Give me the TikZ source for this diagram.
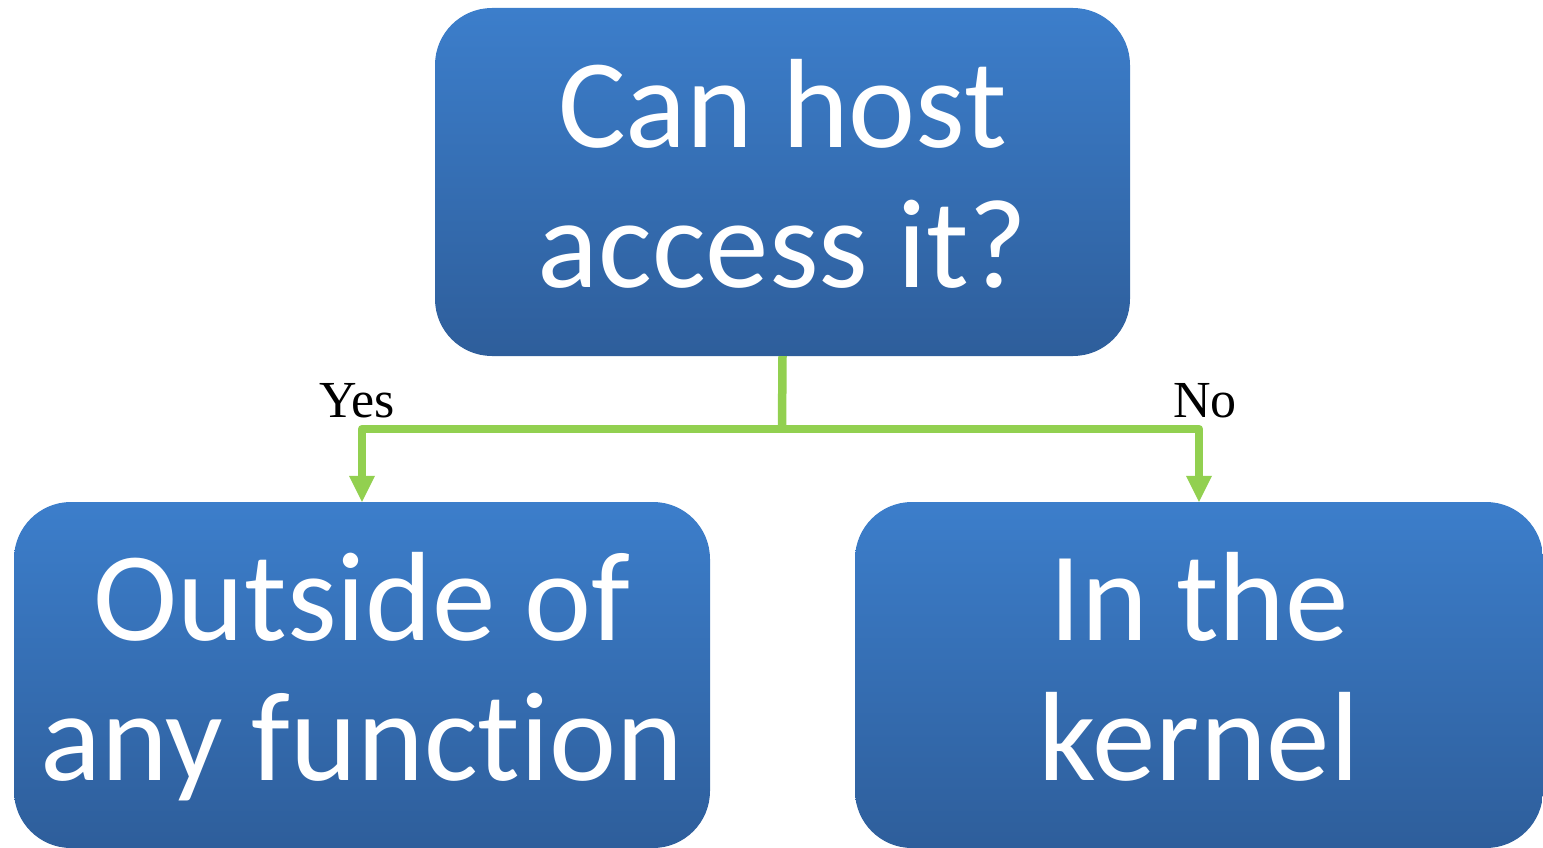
\documentclass[tikz,border=0pt]{standalone}
\usepackage{fontspec}
\newfontfamily\boxfont[Ligatures=NoCommon]{Carlito}
\newfontfamily\lblfont{Liberation Serif}
\usetikzlibrary{arrows.meta}
\definecolor{boxtop}{RGB}{60,126,203}
\definecolor{boxbot}{RGB}{46,94,155}
\definecolor{flowgreen}{RGB}{146,208,80}

\begin{document}
\begin{tikzpicture}[x=1pt,y=-1pt,
  box/.style={draw=none,rounded corners=57pt,top color=boxtop,bottom color=boxbot,
    inner sep=0pt,align=center,text=white,minimum height=346pt,
    text height=211pt,text depth=0pt,
    font=\boxfont\fontsize{127}{140}\selectfont},
  lbl/.style={inner sep=0pt,anchor=base,font=\lblfont\fontsize{52}{60}\selectfont},
  trunk/.style={draw=flowgreen,line width=8.5pt},
  flow/.style={trunk,line join=round,line cap=round,
    -{Triangle[width=26pt,length=26pt,line width=0pt]}}]
  \useasboundingbox (0,0) rectangle (1543,848);

  \node[box,minimum width=695pt,minimum height=348pt] (Q) at (782.5,182) {Can host\\access it?};
  \node[box,minimum width=696pt] (Out) at (362,675) {Outside of\\any function};
  \node[box,minimum width=688pt] (Ker) at (1199,675) {In the\\kernel};

  \coordinate (split) at (782,429);

  \node[lbl] (yes) at (357,417) {Yes};
  \node[lbl] (no) at (1205,417) {No};

  \draw[trunk] (Q.south) -- (split);
  \draw[flow] (split) -| (Out.north);
  \draw[flow] (split) -| (Ker.north);

\end{tikzpicture}
\end{document}
